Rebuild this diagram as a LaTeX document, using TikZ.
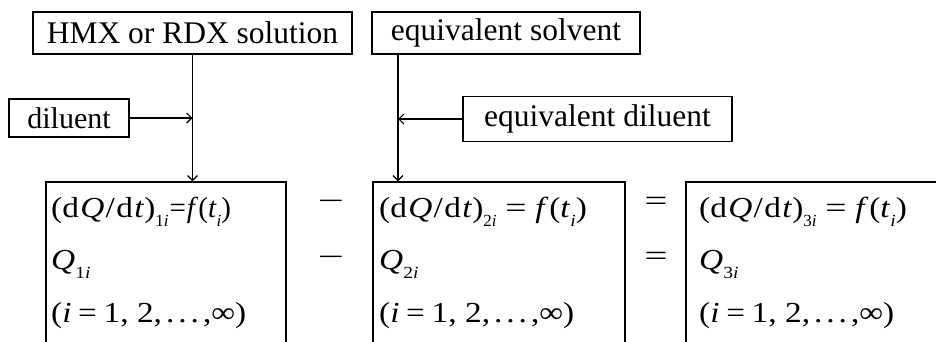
\documentclass[tikz,border=0pt]{standalone}
\usepackage{fontspec}
\usepackage{graphicx}
\setmainfont{Liberation Serif}
\usetikzlibrary{arrows.meta}
\newcommand\sbs[1]{\raisebox{-0.33em}{\fontsize{17}{17}\selectfont #1}}
\newcommand\rowfont{\fontsize{29}{29}\selectfont}
\newcommand\wide[1]{\scalebox{1.15}[1]{#1}}
\newcommand\dqdt{\wide{(d\kern0.04em\textit{Q}\kern0.04em/\kern0.04em d\kern0.04em\textit{t})}}
\newcommand\eqsp{\hspace{0.3em}\scalebox{1.3}[1]{=}\hspace{0.3em}}
\newcommand\eqsm{\hspace{0.2em}=\hspace{0.2em}}
\newcommand\dts{\kern0.12em.\kern0.12em.\kern0.12em.\kern0.12em}
\begin{document}
\begin{tikzpicture}[x=1pt,y=-1pt,
  box/.style={draw, line width=1.3pt, inner sep=0pt, font=\fontsize{31.5}{31.5}\selectfont},
  bigbox/.style={draw, line width=1.3pt, inner sep=0pt},
  arr/.style={line width=1.3pt, -{Straight Barb[length=5pt,width=10pt,line width=1.2pt]}},
  row/.style={anchor=base west, inner sep=0pt, font=\rowfont},
  op/.style={anchor=base, inner sep=0pt, font=\rowfont}]
\useasboundingbox (0,0) rectangle (936,341);
\clip (0,0) rectangle (936,341);
% top boxes
\node[box, minimum width=319, minimum height=42] (sol) at (192.5,33) {HMX or RDX solution};
\node[box, minimum width=268, minimum height=42] (sol2) at (506,33) {equivalent solvent\hspace{20pt}};
\node[box, font=\fontsize{30}{30}\selectfont, minimum width=120, minimum height=38] (dil) at (69,118) {diluent};
\node[box, minimum width=269, minimum height=45] (eqd) at (597.5,119) {equivalent diluent};
% bottom boxes
\node[bigbox, minimum width=240, minimum height=164] (ba) at (166,264) {};
\node[bigbox, minimum width=252, minimum height=164] (bb) at (499,264) {};
\node[bigbox, minimum width=262, minimum height=164] (bc) at (817,264) {};
% connectors
\coordinate (j2) at (398,54);
\draw[arr] (sol.south) -- (sol.south |- ba.north);
\draw[arr] (dil.east) -- (dil.east -| sol.south);
\draw[arr] (j2) -- (j2 |- bb.north);
\draw[arr] (eqd.west) -- (eqd.west -| j2);
% rows, box A
\node[row] (a1) at (51,217) {\dqdt\sbs{1\textit{i}}\kern1pt=\kern1pt\textit{f}(\textit{t}\sbs{\textit{i}})};
\node[row] (a2) at (51,269) {\wide{\textit{Q}\sbs{1\textit{i}}}};
\node[row] (a3) at (51,322) {\wide{(\textit{i}\eqsm 1, 2,\dts,∞)}};
% rows, box B
\node[row] (b1) at (379,217) {\dqdt\sbs{2\textit{i}}\eqsp\wide{\textit{f}\kern0.03em(\textit{t}\sbs{\textit{i}})}};
\node[row] (b2) at (379,269) {\wide{\textit{Q}\sbs{2\textit{i}}}};
\node[row] (b3) at (379,322) {\wide{(\textit{i}\eqsm 1, 2,\dts,∞)}};
% rows, box C
\node[row] (c1) at (699,217) {\dqdt\sbs{3\textit{i}}\eqsp\wide{\textit{f}\kern0.03em(\textit{t}\sbs{\textit{i}})}};
\node[row] (c2) at (699,269) {\wide{\textit{Q}\sbs{3\textit{i}}}};
\node[row] (c3) at (699,322) {\wide{(\textit{i}\eqsm 1, 2,\dts,∞)}};
% operators
\node[op] (m1) at (331,210) {\scalebox{1.6}[1]{−}};
\node[op] (m2) at (331,266) {\scalebox{1.6}[1]{−}};
\node[op] (e1) at (656,210) {\scalebox{1.4}[1]{=}};
\node[op] (e2) at (656,265) {\scalebox{1.4}[1]{=}};
\end{tikzpicture}
\end{document}
